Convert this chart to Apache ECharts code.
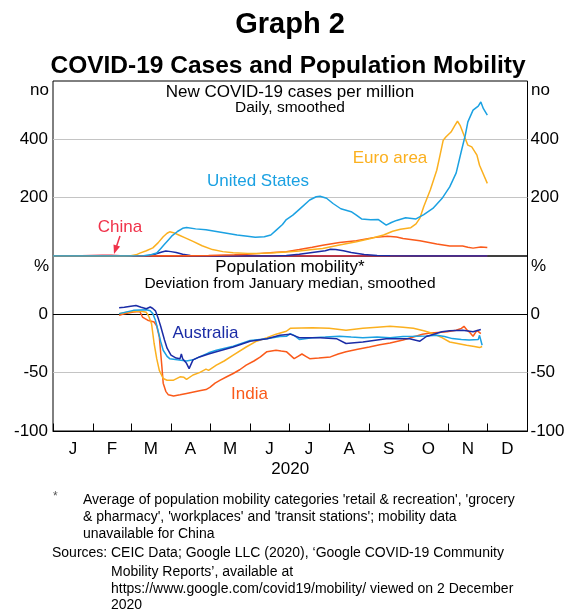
<!DOCTYPE html>
<html>
<head>
<meta charset="utf-8">
<script src="https://cdn.jsdelivr.net/npm/echarts@6/dist/echarts.min.js"></script>
<style>
html,body{margin:0;padding:0;background:#fff;}
#chart{width:573px;height:611px;}
</style>
</head>
<body>
<div id="chart"></div>
<script>
// x values are day-of-year 2020 (0 = 1 January)
const monthLabels = ['J','F','M','A','M','J','J','A','S','O','N','D'];
const yearLabel = '2020';
const casesTicks = [0, 200, 400, 600];
const mobilityTicks = [-100, -50, 0, 50];

// New COVID-19 cases per million, daily, smoothed
const usCases = [[0,0],[60,0],[70,1],[76,5],[80,10],[83,25],[86,40],[89,55],[92,70],[96,84],[100,95],[103,98],[110,93],[118,90],[126,84],[134,78],[142,72],[150,68],[156,64],[163,66],[168,72],[172,88],[177,108],[180,125],[185,140],[190,160],[198,192],[203,203],[206,205],[211,198],[216,180],[222,162],[230,152],[234,140],[238,127],[245,124],[251,125],[254,115],[257,106],[261,115],[265,122],[272,131],[280,127],[286,142],[293,163],[300,197],[306,237],[311,285],[315,360],[318,414],[320,460],[324,500],[328,514],[330,528],[332,505],[335,483]];
const euroCases = [[0,0],[55,0],[60,1],[64,4],[67,10],[72,18],[77,28],[81,45],[85,66],[88,78],[90,83],[93,80],[97,72],[102,62],[108,50],[115,35],[123,22],[131,15],[139,11],[150,9],[160,9],[170,11],[180,14],[190,17],[200,22],[208,26],[220,37],[234,49],[245,60],[255,72],[262,85],[268,92],[276,97],[280,110],[283,130],[286,170],[291,226],[296,294],[298,335],[301,397],[303,408],[307,425],[310,448],[312,462],[314,448],[317,414],[320,380],[323,374],[327,346],[329,311],[335,249]];
const indiaCases = [[0,0],[60,0],[90,1],[120,2],[140,4],[150,6],[160,9],[170,12],[180,15],[190,22],[200,30],[208,37],[221,46],[234,52],[247,63],[258,68],[265,65],[270,60],[283,52],[296,41],[306,34],[316,34],[320,30],[324,27],[330,31],[335,29]];
const australiaCases = [[0,0],[75,0],[79,7],[84,14],[87,17],[91,15],[95,12],[100,6],[106,2],[115,1],[130,0],[170,0],[180,2],[190,6],[200,12],[210,18],[214,23],[218,22],[224,18],[230,12],[240,5],[250,2],[260,1],[280,0],[335,0]];
const chinaCases = [[0,0],[15,0],[22,0.5],[30,2],[38,3],[45,2.5],[52,1],[60,0.3],[70,0],[335,0]];

// Population mobility, deviation from January median (%)
const australiaMob = [[51,5.7],[55,6],[60,7],[64,7.5],[68,6],[72,4.8],[75,6.3],[77,5],[79,3],[81,-3],[83,-10],[86,-22],[88,-29],[91,-35],[95,-37.5],[98,-38],[99,-34],[100,-38],[103,-42],[105,-46.5],[106,-44],[108,-39],[113,-36.5],[120,-34],[126,-32],[139,-28],[152,-23],[165,-21],[175,-18],[183,-17],[190,-20],[206,-20],[219,-21],[226,-25],[239,-23.7],[257,-21],[275,-21],[283,-23],[288,-19],[300,-15],[306,-14],[316,-13.7],[324,-15],[330,-13]];
const usMob = [[51,0.6],[62,3.4],[72,4],[75,3],[77,0.6],[79,-5],[81,-13.7],[83,-23],[85,-30.8],[88,-36],[90,-38],[96,-39],[103,-40],[108,-39],[113,-36.5],[120,-33],[126,-30.8],[139,-27.4],[152,-22.5],[165,-21],[175,-19],[180,-18.8],[183,-16.5],[186,-18],[190,-21.6],[200,-20],[210,-19.5],[221,-18.8],[230,-19.5],[239,-20],[250,-19.4],[260,-20],[270,-19],[278,-18.8],[288,-18.5],[296,-18],[302,-19],[308,-20.8],[315,-21.5],[321,-22],[328,-21.6],[329,-18],[331,-26.5]];
const euroMob = [[51,0.5],[58,2],[62,2.5],[67,2.8],[72,1.7],[74,-2],[76,-8],[78,-25],[80,-38],[82,-48],[85,-55],[88,-56.5],[93,-56.4],[98,-53.6],[101,-54],[103,-55.8],[108,-52],[113,-50],[118,-47],[120,-48],[126,-43.6],[132,-40],[139,-35],[149,-28],[157,-23],[165,-20],[172,-17],[180,-14.5],[183,-12],[200,-11.4],[213,-12],[226,-13.7],[239,-12],[250,-11],[260,-10.3],[270,-11],[278,-12],[286,-14],[293,-16.5],[300,-20],[306,-23.7],[312,-25],[319,-26.5],[325,-27.5],[329,-28.5],[331,-27.6]];
const indiaMob = [[51,-0.9],[55,0.5],[62,2],[67,2.5],[69,-2.3],[73,-5],[78,-6.6],[80,-10],[82,-19.4],[84,-45],[85,-59],[87,-66],[89,-69],[93,-70],[98,-69],[103,-67.8],[113,-65.5],[118,-64.5],[121,-62.6],[125,-59],[129,-56.4],[134,-53.5],[139,-50.7],[144,-47.5],[149,-43.6],[155,-40],[160,-36.5],[165,-32],[172,-30.8],[176,-31.5],[180,-32],[183,-35],[186,-38],[189,-36],[192,-34],[195,-36],[198,-38],[205,-37.5],[214,-36.5],[220,-34],[226,-32],[235,-30],[244,-28],[252,-26],[260,-24.5],[270,-22],[278,-19.4],[285,-17],[291,-16],[297,-15.5],[304,-15],[311,-13.7],[315,-12],[317,-10.3],[319,-13],[321,-15],[324,-18.8],[327,-13.7],[330,-16.5]];

const C = {us:'#1ba1e2', euro:'#fbb01f', india:'#fa5a1a', aus:'#1b2ca6', china:'#f0324a', grid:'#c4c4c4'};
const FONT = '"Liberation Sans", Arial, sans-serif';

const day0 = Date.UTC(2020,0,1);
const monthStarts = [];
for (let m = 0; m <= 12; m++) monthStarts.push((Date.UTC(2020,m,1) - day0) / 864e5);
const midMonths = monthStarts.slice(0,12).map((s,i) => (s + monthStarts[i+1]) / 2);

const chart = echarts.init(document.getElementById('chart'), null, {renderer:'canvas'});

const GL = 53, GR = 45.5;
function yAx(grid, pos, ticks, hide, splitColors) {
  return {
    type:'value', gridIndex:grid, position:pos,
    min:ticks[0], max:ticks[ticks.length-1], interval:ticks[1]-ticks[0],
    axisLine:{show:false}, axisTick:{show:false},
    axisLabel:{fontFamily:FONT, fontSize:17, color:'#000', margin: pos==='left'?5:3,
      formatter: v => hide.indexOf(v) >= 0 ? '' : String(v)},
    splitLine: splitColors ? {show:true, lineStyle:{color:splitColors, width:1}} : {show:false}
  };
}
function line(name, data, color, xi, yi, z) {
  return {name, type:'line', data, xAxisIndex:xi, yAxisIndex:yi, showSymbol:false, symbol:'none',
    lineStyle:{color, width:1.5}, itemStyle:{color}, z:z||2, animation:false};
}
function txt(x, y, s, color, size, align, weight) {
  return {type:'text', x, y, style:{text:s, fill:color||'#000', font:(weight||'normal')+' '+(size||17)+'px '+FONT,
    textAlign:align||'center', textVerticalAlign:'middle'}};
}

const option = {
  animation:false,
  backgroundColor:'#fff',
  grid:[
    {left:GL, right:GR, top:81, height:175, show:true, borderColor:'#000', borderWidth:1, backgroundColor:'transparent'},
    {left:GL, right:GR, top:256, height:175, show:true, borderColor:'#000', borderWidth:1, backgroundColor:'transparent'}
  ],
  xAxis:[
    {type:'value', gridIndex:0, min:0, max:366, show:false, splitLine:{show:false}},
    {type:'value', gridIndex:1, min:0, max:366,
      axisLine:{show:true, onZero:false, lineStyle:{color:'#000', width:1}},
      axisTick:{show:true, inside:true, length:7.5, customValues:monthStarts, lineStyle:{color:'#000'}},
      axisLabel:{show:true, customValues:midMonths, fontFamily:FONT, fontSize:17, color:'#000', margin:10,
        formatter: v => { const i = midMonths.findIndex(m => Math.abs(m - v) < 0.01); return i >= 0 ? monthLabels[i] : ''; }},
      splitLine:{show:false},
      name:yearLabel, nameLocation:'middle', nameGap:30,
      nameTextStyle:{fontFamily:FONT, fontSize:17, color:'#000'}}
  ],
  yAxis:[
    yAx(0,'left',casesTicks,[0,600],['transparent',C.grid,C.grid,'transparent']),
    yAx(0,'right',casesTicks,[0,600],null),
    yAx(1,'left',mobilityTicks,[50],['transparent',C.grid,'#000','transparent']),
    yAx(1,'right',mobilityTicks,[50],null)
  ],
  series:[
    line('China', chinaCases, C.china, 0, 0, 2),
    line('Australia', australiaCases, C.aus, 0, 0, 3),
    line('India', indiaCases, C.india, 0, 0, 4),
    line('Euro area', euroCases, C.euro, 0, 0, 5),
    line('United States', usCases, C.us, 0, 0, 6),
    line('India', indiaMob, C.india, 1, 2, 3),
    line('Euro area', euroMob, C.euro, 1, 2, 4),
    line('United States', usMob, C.us, 1, 2, 5),
    line('Australia', australiaMob, C.aus, 1, 2, 6)
  ],
  graphic:[
    txt(290, 25, 'Graph 2', '#000', 29, 'center', 'bold'),
    txt(288, 66, 'COVID-19 Cases and Population Mobility', '#000', 24.5, 'center', 'bold'),
    txt(290, 92, 'New COVID-19 cases per million', '#000', 17),
    txt(290, 108, 'Daily, smoothed', '#000', 15.5),
    txt(290, 267, 'Population mobility*', '#000', 17),
    txt(290, 284, 'Deviation from January median, smoothed', '#000', 15.5),
    txt(49, 90, 'no', '#000', 17, 'right'),
    txt(531, 90, 'no', '#000', 17, 'left'),
    txt(49, 266, '%', '#000', 17, 'right'),
    txt(531, 266, '%', '#000', 17, 'left'),
    txt(258, 181, 'United States', C.us, 17),
    txt(390, 158, 'Euro area', C.euro, 17),
    txt(120, 227, 'China', C.china, 17),
    txt(205.5, 333, 'Australia', C.aus, 17),
    txt(249.5, 394, 'India', C.india, 17),
    {type:'line', shape:{x1:120, y1:236, x2:116.6, y2:246}, style:{stroke:C.china, lineWidth:1.5}},
    {type:'polygon', shape:{points:[[114,254],[120.1,246.6],[113.5,244.4]]}, style:{fill:C.china}},
    txt(53, 497, '*', '#555', 12, 'left'),
    txt(83, 500, "Average of population mobility categories 'retail & recreation', 'grocery", '#000', 14, 'left'),
    txt(83, 517, "& pharmacy', 'workplaces' and 'transit stations'; mobility data", '#000', 14, 'left'),
    txt(83, 534, 'unavailable for China', '#000', 14, 'left'),
    txt(52, 553, 'Sources:', '#000', 14, 'left'),
    txt(111, 553, 'CEIC Data; Google LLC (2020), \u2018Google COVID-19 Community', '#000', 14, 'left'),
    txt(111, 572, 'Mobility Reports\u2019, available at', '#000', 14, 'left'),
    txt(111, 589, 'https://www.google.com/covid19/mobility/ viewed on 2 December', '#000', 14, 'left'),
    txt(111, 605, '2020', '#000', 14, 'left')
  ]
};
chart.setOption(option);
</script>
</body>
</html>
